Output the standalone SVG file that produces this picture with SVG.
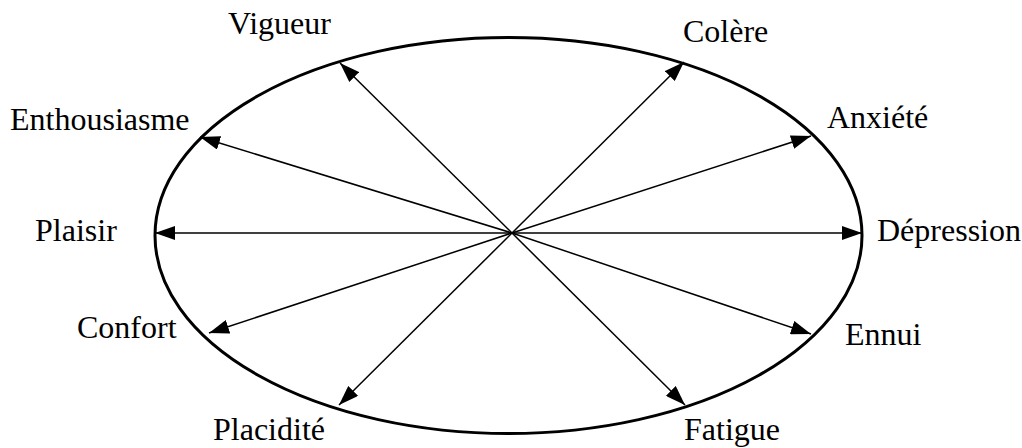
<svg xmlns="http://www.w3.org/2000/svg" width="1022" height="448" viewBox="0 0 1022 448">
<defs>
<style>
.lbl{font-family:"Liberation Serif","Times New Roman",serif;font-size:32px;fill:#000}
.arr{stroke:#000;stroke-width:1.5;fill:none;marker-end:url(#ah)}
</style>
<marker id="ah" markerUnits="userSpaceOnUse" markerWidth="22" markerHeight="14" refX="20" refY="7" orient="auto">
<path d="M0,0 L20,7 L0,14 Z" fill="#000"/>
</marker>
</defs>
<rect width="1022" height="448" fill="#fff"/>
<g id="ellipse">
<ellipse cx="508.5" cy="235.5" rx="353.5" ry="198" fill="none" stroke="#000" stroke-width="3"/>
</g>
<g id="connectors">
<line class="arr" x1="512" y1="233" x2="155" y2="233"/>
<line class="arr" x1="512" y1="233" x2="862" y2="233"/>
<line class="arr" x1="512" y1="233" x2="340" y2="63"/>
<line class="arr" x1="512" y1="233" x2="684" y2="62"/>
<line class="arr" x1="512" y1="233" x2="200" y2="137"/>
<line class="arr" x1="512" y1="233" x2="811" y2="136"/>
<line class="arr" x1="512" y1="233" x2="209" y2="333"/>
<line class="arr" x1="512" y1="233" x2="811" y2="334"/>
<line class="arr" x1="512" y1="233" x2="339" y2="405"/>
<line class="arr" x1="512" y1="233" x2="685" y2="405"/>
</g>
<g id="vigueur"><text class="lbl" x="228" y="34">Vigueur</text></g>
<g id="colere"><text class="lbl" x="683" y="42">Colère</text></g>
<g id="enthousiasme"><text class="lbl" x="10" y="130">Enthousiasme</text></g>
<g id="anxiete"><text class="lbl" x="827" y="128">Anxiété</text></g>
<g id="plaisir"><text class="lbl" x="35" y="241">Plaisir</text></g>
<g id="depression"><text class="lbl" x="877" y="241">Dépression</text></g>
<g id="confort"><text class="lbl" x="77" y="338">Confort</text></g>
<g id="ennui"><text class="lbl" x="845" y="345">Ennui</text></g>
<g id="placidite"><text class="lbl" x="213" y="440">Placidité</text></g>
<g id="fatigue"><text class="lbl" x="684" y="440">Fatigue</text></g>
</svg>
